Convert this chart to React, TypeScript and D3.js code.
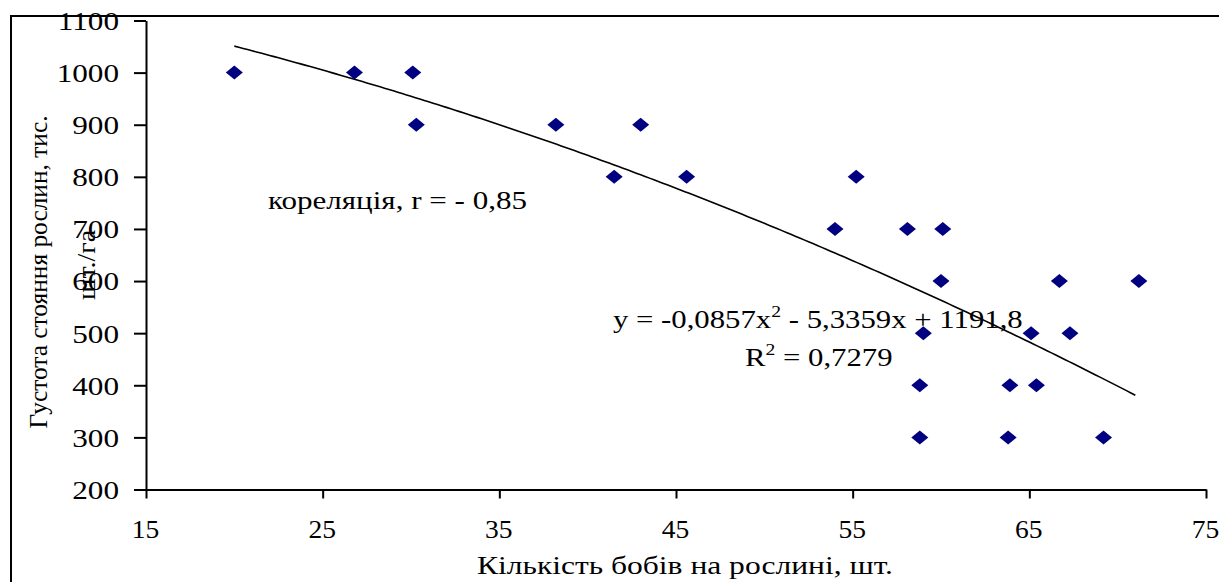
import React, { useEffect, useRef } from "react";
import * as d3 from "d3";

// кількість бобів на рослині, шт.
const beans = [
  20.0, 26.8, 30.1, 30.3, 38.2, 43.0, 41.5, 45.6, 55.2, 54.0, 58.1, 60.1,
  60.0, 66.7, 71.2, 59.0, 65.1, 67.3, 58.8, 63.9, 65.4, 58.8, 63.8, 69.2,
];
// густота стояння, тис. шт./га
const density = [
  1000, 1000, 1000, 900, 900, 900, 800, 800, 800, 700, 700, 700,
  600, 600, 600, 500, 500, 500, 400, 400, 400, 300, 300, 300,
];
// trendline coefficients as printed on the chart (a x^2 + b x + c)
const trendCoef = [-0.0857, -5.3359, 1191.8];
const rSquared = "0,7279";
const correlation = "кореляція, r = - 0,85";

const xTicks = [15, 25, 35, 45, 55, 65, 75];
const yTicks = [200, 300, 400, 500, 600, 700, 800, 900, 1000, 1100];

const FONT = "'Liberation Serif', 'Times New Roman', serif";

const App: React.FC = () => {
  const ref = useRef<SVGSVGElement>(null);

  useEffect(() => {
    drawChart();
  }, []);

  const drawChart = () => {
    const width = 1219;
    const height = 582;
    const stretch = 1.2; // the picture is widened, text too
    const tickFont = 26;

    const x = d3.scaleLinear().domain([15, 75]).range([146, 1206]);
    const y = d3.scaleLinear().domain([200, 1100]).range([489.5, 20.5]);

    const svg = d3.select(ref.current);
    svg.selectAll("*").remove();
    svg.attr("width", width).attr("height", height);

    // outer chart frame (right and bottom run off the picture)
    svg
      .append("rect")
      .attr("x", 11)
      .attr("y", 16)
      .attr("width", width + 20)
      .attr("height", height + 20)
      .attr("fill", "white")
      .attr("stroke", "black")
      .attr("stroke-width", 2);

    // y axis
    const gy = svg
      .append("g")
      .attr("transform", `translate(${x(15)},0)`)
      .call(
        d3
          .axisLeft(y)
          .tickValues(yTicks)
          .tickFormat(d3.format("d"))
          .tickSize(12)
          .tickSizeOuter(0)
      );
    gy.select(".domain").attr("stroke-width", 2);
    gy.selectAll(".tick line").attr("stroke-width", 2);
    gy.selectAll(".tick text")
      .attr("x", 0)
      .attr("dy", "0.34em")
      .attr("transform", `translate(-27,0) scale(${stretch},1)`)
      .attr("font-family", FONT)
      .attr("font-size", tickFont)
      .attr("fill", "black");

    // x axis
    const gx = svg
      .append("g")
      .attr("transform", `translate(0,${y(200)})`)
      .call(
        d3
          .axisBottom(x)
          .tickValues(xTicks)
          .tickFormat(d3.format("d"))
          .tickSize(9)
          .tickSizeOuter(0)
      );
    gx.select(".domain").attr("stroke-width", 2);
    gx.selectAll(".tick line").attr("stroke-width", 2);
    gx.selectAll(".tick text")
      .attr("y", 0)
      .attr("dy", 0)
      .attr("transform", `translate(-1,48) scale(1.06,1)`)
      .attr("font-family", FONT)
      .attr("font-size", tickFont)
      .attr("fill", "black");
    svg.selectAll(".domain").attr("stroke", "black");
    svg.selectAll(".tick line").attr("stroke", "black");

    // trendline over the data range
    const [x0, x1] = d3.extent(beans) as [number, number];
    const [a, b, c] = trendCoef;
    const trend = d3.range(x0, x1 + 0.001, 0.25).map((v) => [v, a * v * v + b * v + c]);
    svg
      .append("path")
      .datum(trend)
      .attr("fill", "none")
      .attr("stroke", "black")
      .attr("stroke-width", 1.6)
      .attr(
        "d",
        d3
          .line<number[]>()
          .x((d) => x(d[0]))
          .y((d) => y(d[1]))
      );

    // scatter points (diamonds)
    const diamond = "M0,-7 L8.5,0 L0,7 L-8.5,0 Z";
    svg
      .append("g")
      .selectAll("path")
      .data(beans.map((v, i) => [v, density[i]]))
      .join("path")
      .attr("d", diamond)
      .attr("transform", (d) => `translate(${x(d[0])},${y(d[1])})`)
      .attr("fill", "#000080");

    const label = (
      txt: string,
      px: number,
      py: number,
      len: number,
      anchor = "start",
      rotate = 0
    ) =>
      svg
        .append("text")
        .attr("transform", `translate(${px},${py}) rotate(${rotate})`)
        .attr("font-family", FONT)
        .attr("font-size", 25)
        .attr("text-anchor", anchor)
        .attr("textLength", len)
        .attr("lengthAdjust", "spacingAndGlyphs")
        .attr("fill", "black")
        .text(txt);

    // axis titles
    label("Кількість бобів на рослині, шт.", 685, 574, 416, "middle");
    label("Густота стояння рослин, тис.", 47, 272, 313, "middle", -90);
    label("шт./га", 95, 265, 70, "middle", -90);

    // correlation note
    label(correlation, 268, 209, 259);

    // trendline equation
    const eq = svg
      .append("text")
      .attr("transform", `translate(613,328) scale(1.23,1)`)
      .attr("font-family", FONT)
      .attr("font-size", 25)
      .attr("fill", "black");
    eq.append("tspan").text(`y = ${String(a).replace(".", ",")}x`);
    eq.append("tspan").attr("dy", -11).attr("font-size", 16).text("2");
    eq.append("tspan")
      .attr("dy", 11)
      .text(` - ${String(-b).replace(".", ",")}x + ${String(c).replace(".", ",")}`);

    const r2 = svg
      .append("text")
      .attr("transform", `translate(745,366) scale(1.23,1)`)
      .attr("font-family", FONT)
      .attr("font-size", 25)
      .attr("fill", "black");
    r2.append("tspan").text("R");
    r2.append("tspan").attr("dy", -11).attr("font-size", 16).text("2");
    r2.append("tspan").attr("dy", 11).text(` = ${rSquared}`);
  };

  return <svg ref={ref} style={{ position: "absolute", left: 0, top: 0 }} />;
};

export default App;
